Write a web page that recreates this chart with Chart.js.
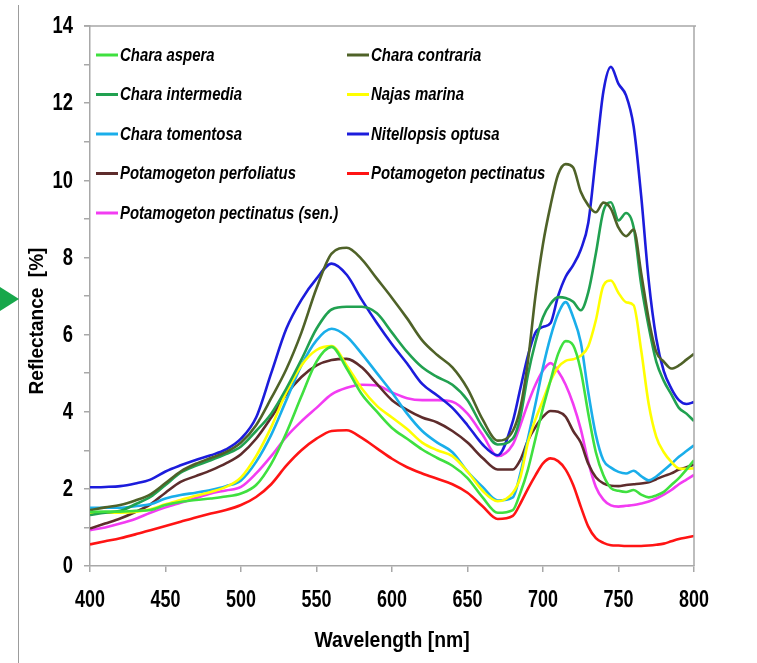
<!DOCTYPE html>
<html><head><meta charset="utf-8">
<script src="https://cdn.jsdelivr.net/npm/chart.js@4/dist/chart.umd.min.js"></script>
<style>html,body{margin:0;padding:0;background:#fff;overflow:hidden}</style>
</head><body>
<canvas id="c" width="757" height="663"></canvas>
<script>
const wavelengths = [400,410,420,430,440,450,460,470,480,490,500,510,520,530,540,550,560,570,580,590,600,610,620,630,640,650,660,670,680,
  685,690,695,700,705,710,715,720,725,730,735,740,745,750,755,760,765,770,775,780,785,790,795,800];

const charaAspera = [1.40,1.41,1.41,1.43,1.45,1.58,1.66,1.71,1.75,1.80,
  1.88,2.10,2.65,3.45,4.40,5.30,5.68,5.12,4.45,4.00,
  3.58,3.30,3.02,2.80,2.60,2.28,1.78,1.38,1.45,
  1.90,2.50,3.30,4.10,4.81,5.50,5.83,5.72,5.07,3.95,2.95,2.35,2.02,1.95,1.92,1.97,1.85,1.78,1.83,1.92,2.10,2.28,2.50,2.74];
const charaContraria = [1.45,1.52,1.58,1.70,1.86,2.15,2.45,2.65,2.80,2.95,
  3.20,3.65,4.35,5.10,6.05,7.20,8.10,8.25,7.95,7.45,
  6.95,6.42,5.85,5.47,5.15,4.60,3.80,3.25,3.50,
  4.10,5.30,7.00,8.35,9.35,10.15,10.42,10.33,9.70,9.35,9.17,9.42,9.26,8.77,8.55,8.72,7.60,6.40,5.55,5.30,5.12,5.20,5.35,5.50];
const charaIntermedia = [1.32,1.38,1.43,1.60,1.79,2.10,2.42,2.60,2.74,2.90,
  3.10,3.50,3.95,4.60,5.35,6.15,6.65,6.72,6.72,6.55,
  6.05,5.55,5.15,4.90,4.70,4.30,3.60,3.15,3.30,
  3.86,4.95,5.80,6.45,6.80,6.97,6.95,6.85,6.63,7.10,8.10,9.20,9.43,8.96,9.15,8.78,7.30,6.20,5.30,4.80,4.45,4.10,3.95,3.76];
const najasMarina = [1.38,1.38,1.38,1.40,1.47,1.60,1.71,1.82,1.92,2.05,
  2.30,2.85,3.60,4.50,5.20,5.60,5.70,5.20,4.60,4.15,
  3.85,3.55,3.20,3.00,2.85,2.45,1.95,1.68,1.90,
  2.30,3.20,3.80,4.30,4.80,5.15,5.32,5.36,5.45,5.70,6.37,7.27,7.40,7.08,6.84,6.76,5.60,4.20,3.35,2.95,2.70,2.53,2.52,2.53];
const charaTomentosa = [1.51,1.51,1.51,1.55,1.60,1.75,1.84,1.90,1.97,2.07,
  2.22,2.70,3.40,4.30,5.20,5.85,6.15,5.95,5.50,5.00,
  4.50,3.95,3.50,3.20,2.95,2.45,2.05,1.70,1.78,
  2.40,3.30,4.20,5.15,5.94,6.54,6.84,6.45,5.80,4.50,3.40,2.74,2.55,2.44,2.40,2.47,2.33,2.22,2.32,2.48,2.65,2.83,2.98,3.13];
const nitellopsisOptusa = [2.04,2.05,2.07,2.14,2.24,2.45,2.61,2.75,2.87,3.02,
  3.30,3.85,5.00,6.15,6.90,7.45,7.84,7.55,6.90,6.30,
  5.75,5.25,4.72,4.42,4.10,3.65,3.15,2.87,3.75,
  4.60,5.45,6.05,6.20,6.30,7.00,7.50,7.80,8.20,8.90,10.60,12.30,12.94,12.50,12.20,11.40,9.60,7.40,5.90,5.05,4.60,4.30,4.20,4.25];
const potamogetonPerfoliatus = [0.97,1.10,1.23,1.40,1.60,1.90,2.18,2.33,2.48,2.66,
  2.90,3.30,3.85,4.45,4.90,5.20,5.34,5.37,5.15,4.72,
  4.30,4.05,3.85,3.72,3.50,3.20,2.80,2.50,2.50,
  2.75,3.25,3.60,3.87,4.02,4.00,3.87,3.50,3.20,2.65,2.30,2.14,2.08,2.07,2.10,2.12,2.14,2.17,2.25,2.33,2.40,2.50,2.56,2.63];
const potamogetonPectinatus = [0.56,0.64,0.72,0.82,0.93,1.04,1.15,1.26,1.36,1.45,
  1.58,1.79,2.12,2.60,3.00,3.30,3.50,3.52,3.32,3.05,
  2.78,2.56,2.40,2.26,2.12,1.90,1.55,1.22,1.30,
  1.62,2.00,2.35,2.66,2.79,2.72,2.50,2.10,1.54,1.02,0.72,0.60,0.54,0.53,0.52,0.52,0.52,0.53,0.55,0.58,0.64,0.70,0.74,0.78];
const potamogetonPectinatusSen = [0.93,1.00,1.10,1.22,1.38,1.52,1.64,1.76,1.88,1.96,
  2.05,2.40,2.85,3.35,3.75,4.10,4.45,4.62,4.70,4.68,
  4.50,4.35,4.30,4.30,4.26,3.95,3.40,2.85,3.15,
  3.65,4.21,4.70,5.07,5.26,5.05,4.70,4.20,3.55,2.70,2.05,1.72,1.57,1.54,1.56,1.58,1.62,1.67,1.75,1.85,1.97,2.12,2.24,2.36];

const seriesNames = ['Chara aspera','Chara contraria','Chara intermedia','Najas marina','Chara tomentosa',
  'Nitellopsis optusa','Potamogeton perfoliatus','Potamogeton pectinatus','Potamogeton pectinatus (sen.)'];
const seriesValues = [charaAspera, charaContraria, charaIntermedia, najasMarina, charaTomentosa,
  nitellopsisOptusa, potamogetonPerfoliatus, potamogetonPectinatus, potamogetonPectinatusSen];
const seriesColors = ['#3fe03f','#4f6228','#21a150','#ffff00','#1aaeea','#1c1cdc','#5e2c2c','#ff1414','#f23cf2'];

const xTickValues = [400,450,500,550,600,650,700,750,800];
const yTickValues = [0,1,2,3,4,5,6,7,8,9,10,11,12,13,14];
const yTickLabels = ['0','','2','','4','','6','','8','','10','','12','','14'];
const xTitle = 'Wavelength [nm]';
const yTitle = 'Reflectance  [%]';

const AXIS = '#a8a8a8';
const SANS = "'Liberation Sans', Arial, sans-serif";

function squeezedText(ctx, text, x, y, sx, align) {
  ctx.save();
  ctx.translate(x, y);
  ctx.scale(sx, 1);
  ctx.textAlign = align;
  ctx.fillText(text, 0, 0);
  ctx.restore();
}

const decor = {
  id: 'decor',
  beforeDraw(chart) {
    const ctx = chart.ctx;
    ctx.save(); ctx.fillStyle = '#fff'; ctx.fillRect(0, 0, chart.width, chart.height); ctx.restore();
  },
  afterDraw(chart) {
    const ctx = chart.ctx, a = chart.chartArea;
    const xs = chart.scales.x, ys = chart.scales.y;
    ctx.save();
    // frame top and right
    ctx.strokeStyle = AXIS; ctx.lineWidth = 1.5;
    ctx.beginPath();
    ctx.moveTo(a.left - 6, a.top); ctx.lineTo(a.right + 2, a.top);
    ctx.moveTo(a.right, a.top); ctx.lineTo(a.right, a.bottom);
    ctx.stroke();
    // page edge line and arrow
    ctx.strokeStyle = '#9c9c9c'; ctx.lineWidth = 1;
    ctx.beginPath(); ctx.moveTo(18.5, 5); ctx.lineTo(18.5, chart.height); ctx.stroke();
    ctx.fillStyle = '#17a74b';
    ctx.beginPath(); ctx.moveTo(0, 287); ctx.lineTo(19, 299); ctx.lineTo(0, 311); ctx.closePath(); ctx.fill();

    ctx.fillStyle = '#000';
    ctx.textBaseline = 'middle';
    // tick labels
    ctx.font = "bold 23px " + SANS;
    xTickValues.forEach(v => squeezedText(ctx, String(v), xs.getPixelForValue(v), 601, 0.78, 'center'));
    yTickValues.forEach((v, i) => {
      if (yTickLabels[i]) squeezedText(ctx, yTickLabels[i], 73, ys.getPixelForValue(v) + 1, 0.8, 'right');
    });
    // x title
    ctx.font = "bold 22px " + SANS;
    squeezedText(ctx, xTitle, (a.left + a.right) / 2, 641, 0.88, 'center');
    // y title
    ctx.save();
    ctx.translate(37, 321); ctx.rotate(-Math.PI / 2);
    ctx.font = "bold 20px " + SANS;
    squeezedText(ctx, yTitle, 0, 0, 0.95, 'center');
    ctx.restore();
    // legend
    ctx.font = "italic bold 18px " + SANS;
    chart.data.datasets.forEach((ds, i) => {
      const col = i % 2, row = Math.floor(i / 2);
      const x = col === 0 ? 96 : 347;
      const y = 55 + row * 39.5;
      ctx.strokeStyle = ds.borderColor; ctx.lineWidth = 3;
      ctx.beginPath(); ctx.moveTo(x, y); ctx.lineTo(x + 22, y); ctx.stroke();
      ctx.fillStyle = '#000';
      squeezedText(ctx, ds.label, x + 24, y + 1, 0.83, 'left');
    });
    ctx.restore();
  }
};

new Chart(document.getElementById('c'), {
  type: 'line',
  data: {
    datasets: seriesNames.map((name, i) => ({
      label: name,
      data: wavelengths.map((w, j) => ({ x: w, y: seriesValues[i][j] })),
      borderColor: seriesColors[i],
      backgroundColor: seriesColors[i],
      borderWidth: 2.6,
      pointRadius: 0,
      cubicInterpolationMode: 'monotone',
      fill: false
    }))
  },
  options: {
    responsive: false,
    animation: false,
    devicePixelRatio: 1,
    layout: { padding: { left: 0, right: 63, top: 26, bottom: 0 } },
    plugins: { legend: { display: false }, tooltip: { enabled: false } },
    scales: {
      x: {
        type: 'linear', min: 400, max: 800,
        afterBuildTicks: s => { s.ticks = xTickValues.map(v => ({ value: v })); },
        afterFit: s => { s.height = 97; },
        ticks: { display: false, autoSkip: false },
        grid: { drawOnChartArea: false, drawTicks: true, tickLength: 6, color: AXIS, lineWidth: 1.5 },
        border: { color: AXIS, width: 1.5 },
        title: { display: false }
      },
      y: {
        min: 0, max: 14,
        afterBuildTicks: s => { s.ticks = yTickValues.map(v => ({ value: v })); },
        afterFit: s => { s.width = 90; },
        ticks: { display: false, autoSkip: false },
        grid: { drawOnChartArea: false, drawTicks: true, tickLength: 6, color: AXIS, lineWidth: 1.5 },
        border: { color: AXIS, width: 1.5 }
      }
    }
  },
  plugins: [decor]
});
</script>
</body></html>
